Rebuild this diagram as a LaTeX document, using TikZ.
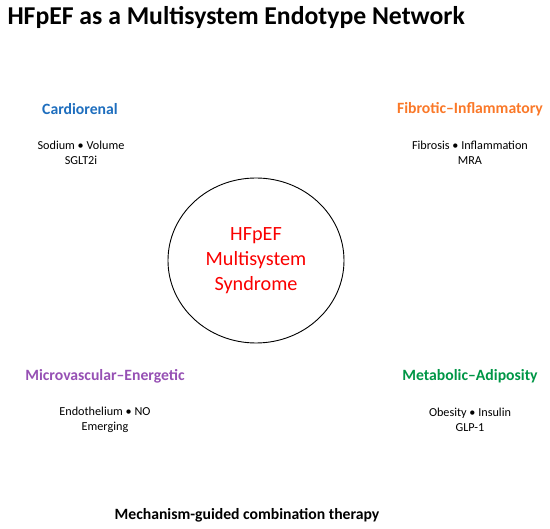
\documentclass[tikz,border=0pt]{standalone}
\usepackage{fontspec}
\setmainfont{Carlito}
\usepackage{tikz}
\usetikzlibrary{shapes.geometric}
\definecolor{cardioblue}{RGB}{30,110,190}
\definecolor{fibroorange}{RGB}{250,120,40}
\definecolor{microviolet}{RGB}{150,80,180}
\definecolor{metagreen}{RGB}{0,150,70}
\definecolor{corered}{RGB}{250,0,0}
\tikzset{
  heading/.style={font=\fontsize{15.7}{19}\selectfont\bfseries},
  detail/.style={align=center, font=\fontsize{12.2}{15}\selectfont},
  core/.style={ellipse, draw, line width=0.9pt, minimum width=176pt, minimum height=165pt,
    inner sep=0pt, align=center, text=corered, font=\fontsize{20.2}{25}\selectfont}
}

\begin{document}
\begin{tikzpicture}[x=1pt,y=-1pt]
  \useasboundingbox (0,0) rectangle (550,529);
  \node [anchor=base west, font=\fontsize{25.7}{30}\selectfont\bfseries] (title) at (4,25) {HFpEF as a Multisystem Endotype Network};

  \node [core] (hfpef) at (256,260.5) {HFpEF\\Multisystem\\Syndrome};

  % the four endotypes
  \node [heading, text=cardioblue] (cardio) at (80,109) {Cardiorenal};
  \node [detail] (cardiod) at (81,152.5) {Sodium • Volume\\SGLT2i};
  \node [heading, text=fibroorange] (fibro) at (470,109) {Fibrotic–Inflammatory};
  \node [detail] (fibrod) at (470,152.5) {Fibrosis • Inflammation\\MRA};
  \node [heading, text=microviolet] (micro) at (105,376) {Microvascular–Energetic};
  \node [detail] (microd) at (105,419.5) {Endothelium • NO\\Emerging};
  \node [heading, text=metagreen] (meta) at (470,376) {Metabolic–Adiposity};
  \node [detail] (metad) at (470,419.5) {Obesity • Insulin\\GLP-1};

  \node [font=\fontsize{15.7}{19}\selectfont\bfseries] (therapy) at (247,515) {Mechanism-guided combination therapy};
\end{tikzpicture}
\end{document}
